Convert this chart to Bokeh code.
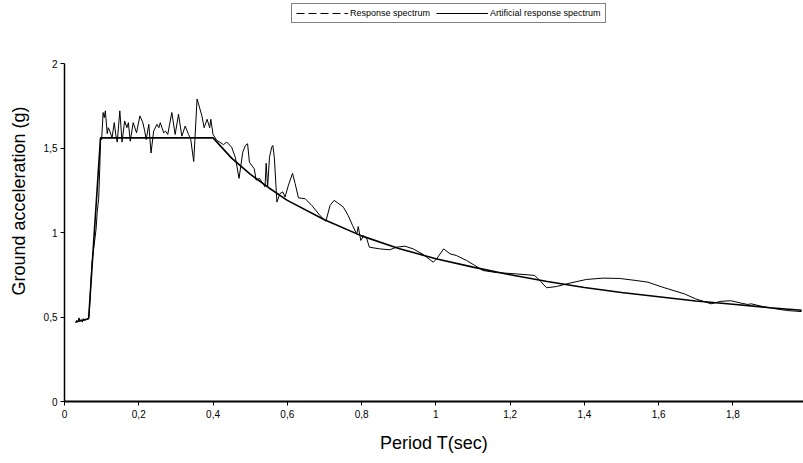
from bokeh.plotting import figure
from bokeh.models import ColumnDataSource, FixedTicker, Legend, LegendItem, Range1d
from bokeh.embed import file_html
from bokeh.resources import INLINE

# Artificial response spectrum
art_T = [0.030, 0.033, 0.036, 0.039, 0.042, 0.045, 0.048, 0.051, 0.054, 0.058, 0.062, 0.066,
         0.074, 0.080, 0.085, 0.088, 0.092, 0.095, 0.097, 0.100, 0.104, 0.107, 0.110, 0.115,
         0.118, 0.122, 0.128, 0.134, 0.138, 0.142, 0.149, 0.155, 0.162, 0.168, 0.172, 0.177,
         0.185, 0.194, 0.203, 0.211, 0.216, 0.220, 0.227, 0.233, 0.240, 0.249, 0.254, 0.258,
         0.267, 0.272, 0.278, 0.289, 0.298, 0.307, 0.316, 0.325, 0.334, 0.340, 0.348, 0.357,
         0.361, 0.370, 0.376, 0.384, 0.391, 0.394, 0.400, 0.410, 0.418, 0.428, 0.437, 0.450,
         0.460, 0.470, 0.480, 0.487, 0.493, 0.498, 0.511, 0.516, 0.525, 0.540, 0.543, 0.547,
         0.552, 0.558, 0.561, 0.565, 0.572, 0.580, 0.588, 0.594, 0.603, 0.614, 0.621, 0.630,
         0.648, 0.666, 0.688, 0.704, 0.715, 0.726, 0.737, 0.751, 0.764, 0.776, 0.787, 0.791,
         0.798, 0.805, 0.814, 0.821, 0.849, 0.876, 0.894, 0.917, 0.939, 0.966, 0.993, 1.002,
         1.021, 1.038, 1.055, 1.083, 1.105, 1.127, 1.163, 1.217, 1.266, 1.280, 1.298, 1.324,
         1.360, 1.405, 1.450, 1.495, 1.539, 1.571, 1.611, 1.669, 1.700, 1.741, 1.768, 1.795,
         1.822, 1.840, 1.849, 1.880, 1.916, 1.947, 1.985]
art_A = [0.465, 0.480, 0.470, 0.495, 0.475, 0.485, 0.470, 0.490, 0.480, 0.485, 0.490, 0.500,
         0.820, 0.930, 1.020, 1.120, 1.200, 1.380, 1.560, 1.550, 1.710, 1.680, 1.720, 1.585,
         1.620, 1.600, 1.560, 1.650, 1.580, 1.535, 1.720, 1.535, 1.660, 1.620, 1.650, 1.540,
         1.650, 1.590, 1.690, 1.650, 1.600, 1.550, 1.640, 1.470, 1.600, 1.640, 1.620, 1.650,
         1.590, 1.600, 1.580, 1.710, 1.580, 1.700, 1.570, 1.630, 1.580, 1.550, 1.420, 1.790,
         1.760, 1.690, 1.620, 1.670, 1.620, 1.670, 1.580, 1.545, 1.535, 1.520, 1.535, 1.505,
         1.445, 1.320, 1.475, 1.515, 1.525, 1.415, 1.377, 1.310, 1.320, 1.270, 1.410, 1.270,
         1.445, 1.505, 1.515, 1.445, 1.180, 1.230, 1.240, 1.210, 1.280, 1.350, 1.290, 1.205,
         1.200, 1.160, 1.100, 1.067, 1.160, 1.190, 1.173, 1.150, 1.100, 1.040, 0.990, 1.035,
         0.953, 0.980, 0.963, 0.913, 0.903, 0.898, 0.913, 0.919, 0.903, 0.870, 0.824, 0.844,
         0.903, 0.874, 0.864, 0.834, 0.805, 0.775, 0.763, 0.755, 0.746, 0.716, 0.673, 0.680,
         0.700, 0.722, 0.730, 0.728, 0.716, 0.706, 0.676, 0.637, 0.607, 0.578, 0.593, 0.596,
         0.582, 0.574, 0.578, 0.562, 0.548, 0.538, 0.532]

# Design response spectrum
resp_T = [0.030, 0.065, 0.097, 0.40, 0.45, 0.50, 0.55, 0.60, 0.70, 0.80, 0.90, 1.00,
          1.10, 1.20, 1.30, 1.40, 1.50, 1.60, 1.70, 1.80, 1.90, 1.985]
resp_A = [0.470, 0.490, 1.560, 1.560, 1.440, 1.345, 1.265, 1.190, 1.075, 0.980, 0.905, 0.845,
          0.795, 0.750, 0.710, 0.675, 0.645, 0.620, 0.595, 0.575, 0.555, 0.540]

x_ticks = [0, 0.2, 0.4, 0.6, 0.8, 1.0, 1.2, 1.4, 1.6, 1.8]
x_tick_labels = ["0", "0,2", "0,4", "0,6", "0,8", "1", "1,2", "1,4", "1,6", "1,8"]
y_ticks = [0, 0.5, 1.0, 1.5, 2.0]
y_tick_labels = ["0", "0,5", "1", "1,5", "2"]

FONT = "Liberation Sans"

# frame spans the full height above the x axis (0..401 px); y = 2 sits at 63 px
p = figure(width=803, height=463, output_backend="svg", toolbar_location=None,
           x_range=Range1d(0, 1.99), y_range=Range1d(0, 2.0 * 401 / 338),
           min_border_left=64, min_border_right=0, min_border_top=0, min_border_bottom=62)
p.outline_line_color = None
p.xgrid.visible = False
p.ygrid.visible = False
p.background_fill_color = "white"

resp_src = ColumnDataSource(dict(x=resp_T, y=resp_A))
art_src = ColumnDataSource(dict(x=art_T, y=art_A))
r_resp = p.line("x", "y", source=resp_src, line_color="black", line_width=1.6)
r_art = p.line("x", "y", source=art_src, line_color="black", line_width=1.0)
# legend sample renderers (no visible data, only used for the legend samples)
nan = float("nan")
r_leg_resp = p.line(x=[nan], y=[nan], line_color="black", line_width=1, line_dash="8 4")
r_leg_art = p.line(x=[nan], y=[nan], line_color="black", line_width=1)

legend = Legend(items=[LegendItem(label="Response spectrum", renderers=[r_leg_resp]),
                       LegendItem(label="Artificial response spectrum", renderers=[r_leg_art])],
                orientation="horizontal", location=(227, 378),
                label_text_font=FONT, label_text_font_size="9px", label_text_color="black",
                glyph_width=52, glyph_height=10, label_height=10, label_standoff=2,
                spacing=6, padding=4, margin=0,
                border_line_color="black", border_line_width=1,
                background_fill_color="white", background_fill_alpha=1.0)
p.add_layout(legend, "center")

for ax, ticks, labels in ((p.xaxis[0], x_ticks, x_tick_labels), (p.yaxis[0], y_ticks, y_tick_labels)):
    ax.ticker = FixedTicker(ticks=ticks)
    ax.major_label_overrides = {t: l for t, l in zip(ticks, labels)}
    ax.minor_tick_line_color = None
    ax.major_tick_out = 4
    ax.major_tick_in = 0
    ax.major_label_text_font = FONT
    ax.major_label_text_font_size = "10px"
    ax.major_label_text_color = "black"
    ax.axis_label_text_font = FONT
    ax.axis_label_text_font_size = "18px"
    ax.axis_label_text_font_style = "normal"
    ax.axis_label_text_color = "black"
    ax.axis_line_color = "black"
    ax.major_tick_line_color = "black"

p.yaxis.bounds = (0, 2)
p.xaxis.axis_label = "Period T(sec)"
p.yaxis.axis_label = "Ground acceleration (g)"
p.xaxis.axis_line_width = 2
p.yaxis.axis_line_width = 1.5
p.xaxis.major_label_standoff = 4
p.yaxis.major_label_standoff = 3
p.xaxis.axis_label_standoff = 12
p.yaxis.axis_label_standoff = 12

open("out.html", "w").write(file_html(p, INLINE))
